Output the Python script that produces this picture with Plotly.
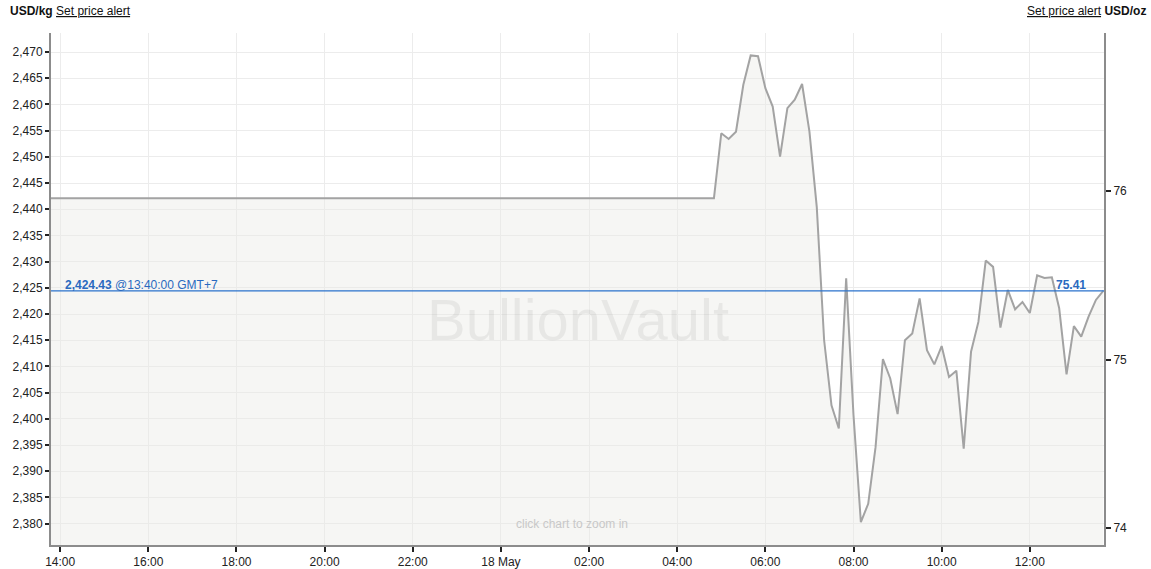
import plotly.graph_objects as go
import pandas as pd

# ---- data ----
weekend_time = "2026-05-17 13:40"
weekend_price = 2442.1
trade_start = "2026-05-18 04:50"
prices = [
    2442.1, 2454.5, 2453.4, 2454.8, 2463.75, 2469.35, 2469.2,
    2463.1, 2459.6, 2450.05, 2459.3, 2460.9, 2463.9,
    2454.8, 2440.4, 2415.0, 2402.6, 2398.15, 2426.8,
    2400.7, 2380.3, 2383.8, 2394.6, 2411.4, 2407.7,
    2400.9, 2415.0, 2416.3, 2423.0, 2413.1, 2410.4,
    2413.9, 2408.0, 2409.2, 2394.3, 2412.8, 2418.5,
    2430.2, 2429.0, 2417.4, 2424.6, 2420.9, 2422.3,
    2420.2, 2427.4, 2426.9, 2427.0, 2421.1, 2408.5,
    2417.7, 2415.7, 2419.5, 2422.7, 2424.43,
]
last_price = 2424.43
last_label = "2,424.43"
last_time_label = "@13:40:00 GMT+7"
last_oz_label = "75.41"
oz_per_kg = 32.1507466

x_tickvals = ["2026-05-17 14:00", "2026-05-17 16:00", "2026-05-17 18:00",
              "2026-05-17 20:00", "2026-05-17 22:00", "2026-05-18 00:00",
              "2026-05-18 02:00", "2026-05-18 04:00", "2026-05-18 06:00",
              "2026-05-18 08:00", "2026-05-18 10:00", "2026-05-18 12:00"]
x_ticktext = ["14:00", "16:00", "18:00", "20:00", "22:00", "18 May",
              "02:00", "04:00", "06:00", "08:00", "10:00", "12:00"]
oz_ticks = [74, 75, 76]

x_range = ["2026-05-17 13:47:30", "2026-05-18 13:41"]
y_range = [2375.93, 2473.63]

times = [pd.Timestamp(weekend_time)] + list(
    pd.date_range(trade_start, periods=len(prices), freq="10min"))
values = [weekend_price] + prices

FONT = "Liberation Sans, Arial, sans-serif"

fig = go.Figure()
fig.add_trace(go.Scatter(
    x=times, y=values, mode="lines",
    line=dict(color="#a3a3a3", width=2),
    fill="tozeroy", fillcolor="rgba(236,236,230,0.45)",
    hoverinfo="skip", showlegend=False))
# invisible trace for the right axis
fig.add_trace(go.Scatter(
    x=[times[0]], y=[weekend_price / oz_per_kg], yaxis="y2",
    mode="markers", marker=dict(opacity=0), hoverinfo="skip", showlegend=False))

fig.add_shape(type="line", xref="paper", x0=0, x1=1, yref="y",
              y0=last_price, y1=last_price,
              line=dict(color="#2a72cc", width=1.3))

fig.update_layout(
    width=1151, height=569,
    margin=dict(l=51, r=47, t=33, b=24, autoexpand=False),
    paper_bgcolor="white", plot_bgcolor="white",
    font=dict(family=FONT, size=12, color="#222"),
    xaxis=dict(
        type="date", range=x_range, automargin=False,
        tickmode="array", tickvals=x_tickvals, ticktext=x_ticktext,
        showgrid=True, gridcolor="#ececec", gridwidth=1,
        showline=True, linecolor="#8c8c8c", linewidth=2,
        ticks="outside", ticklen=5, tickwidth=2, tickcolor="#222",
        tickfont=dict(size=12, color="#222"), zeroline=False,
        fixedrange=True),
    yaxis=dict(
        range=y_range, dtick=5, tick0=2380, tickformat=",d", automargin=False,
        showgrid=True, gridcolor="#ececec", gridwidth=1,
        showline=True, linecolor="#8c8c8c", linewidth=2,
        ticks="outside", ticklen=4, tickwidth=2, tickcolor="#222",
        tickfont=dict(size=12, color="#222"), zeroline=False,
        fixedrange=True),
    yaxis2=dict(
        overlaying="y", side="right", automargin=False,
        range=[y_range[0] / oz_per_kg, y_range[1] / oz_per_kg],
        tickmode="array", tickvals=oz_ticks,
        showgrid=False, zeroline=False,
        showline=True, linecolor="#8c8c8c", linewidth=2,
        ticks="outside", ticklen=5, tickwidth=2, tickcolor="#222",
        tickfont=dict(size=12, color="#222"), fixedrange=True),
)

ann = []
ann.append(dict(text=f"<b>{last_label}</b> {last_time_label}", xref="paper",
                yref="y", x=0.0117, y=last_price, xanchor="left",
                yanchor="bottom", yshift=-3, showarrow=False,
                font=dict(size=12, color="#2a6ac0")))
ann.append(dict(text=f"<b>{last_oz_label}</b>", xref="paper", yref="y",
                x=0.9845, y=last_price, xanchor="right", yanchor="bottom",
                yshift=-3, showarrow=False, font=dict(size=12, color="#2a6ac0")))
ann.append(dict(text="<b>USD/kg</b> <u>Set price alert</u>", xref="paper",
                yref="paper", x=-0.0405, y=1.0435, xanchor="left",
                yanchor="middle", showarrow=False,
                font=dict(size=12, color="#111")))
ann.append(dict(text="<u>Set price alert</u> <b>USD/oz</b>", xref="paper",
                yref="paper", x=1.0415, y=1.0435, xanchor="right",
                yanchor="middle", showarrow=False,
                font=dict(size=12, color="#111")))
ann.append(dict(text="click chart to zoom in", xref="paper", yref="paper",
                x=0.495, y=0.0416, xanchor="center", yanchor="middle",
                showarrow=False, font=dict(size=12, color="#c8c8c8")))
ann.append(dict(text="BullionVault", xref="paper", yref="paper",
                x=0.5, y=0.44, xanchor="center", yanchor="middle",
                showarrow=False, font=dict(size=58, color="rgba(0,0,0,0.06)")))
fig.update_layout(annotations=ann)

fig.write_html(
    "out.html",
    config={"displayModeBar": False},
    post_script="document.body.style.margin='0';"
                "document.body.style.overflow='hidden';",
)
